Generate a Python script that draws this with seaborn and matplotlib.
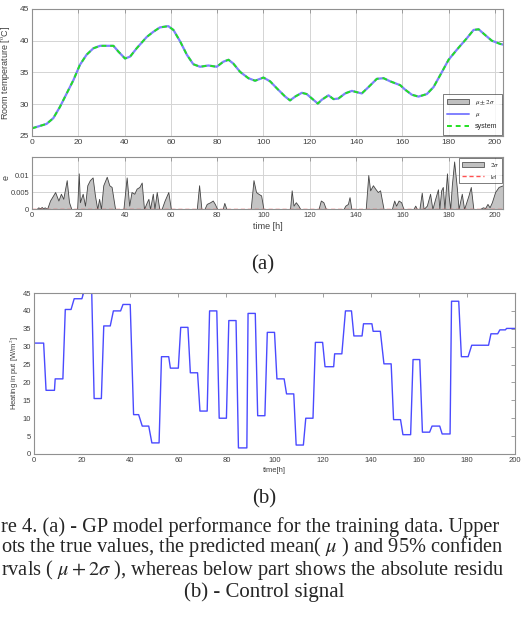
import numpy as np
import pandas as pd
import matplotlib
matplotlib.use("Agg")
import matplotlib.pyplot as plt
from matplotlib.patches import Patch
from matplotlib.lines import Line2D
import seaborn as sns

# room temperature (mu and system overlap)
temp_time = [0, 6.3, 9.2, 12.1, 15, 17.9, 20.7, 23.6, 26.5, 29.4, 35.2, 37.3, 40.2, 42.4,
             45.2, 49.6, 52.4, 55.3, 58.9, 61.1, 64, 66.9, 69.7, 72.6, 76.2, 79.8, 82.7,
             84.9, 87, 89.9, 93.5, 96.4, 100, 102.9, 105.8, 109.4, 111.5, 113.7, 116.6,
             118.7, 121.6, 123.5, 125.2, 128.1, 130.3, 132.4, 135.3, 138.2, 140.3, 142.5,
             145.4, 149, 151.9, 154.8, 159.1, 161.2, 164.1, 167, 170.6, 173.5, 176.4, 180,
             183.6, 187.9, 190.8, 193, 195.8, 198.7, 202.3, 203.5]
temp_mu = [26.2, 26.9, 27.8, 29.6, 31.7, 33.8, 36.2, 37.8, 38.8, 39.2, 39.2, 38.3, 37.2, 37.5,
           38.8, 40.6, 41.4, 42.1, 42.3, 41.7, 39.9, 37.8, 36.3, 35.9, 36.1, 35.9, 36.7,
           37.0, 36.4, 35.1, 34.1, 33.7, 34.2, 33.6, 32.5, 31.2, 30.6, 31.2, 31.8,
           31.6, 30.7, 30.1, 30.7, 31.4, 30.8, 30.9, 31.7, 32.1, 31.9, 31.7,
           32.7, 34.0, 34.1, 33.6, 33.0, 32.3, 31.5, 31.2, 31.6, 32.7, 34.6, 37.0,
           38.6, 40.4, 41.7, 41.8, 40.9, 40.0, 39.5, 39.4]

# 2 sigma band of the residual panel
sig_time = [0, 2, 2.7, 3.5, 4.2, 4.8, 5.5, 6.5, 7.8, 10, 11.4, 12.5, 13.5, 15, 16, 17,
            19.5, 20.2, 20.7, 21.9, 22.9, 23.9, 25, 26.2, 27.2, 28.2, 29, 29.8, 30.8, 32.3,
            33.4, 34.4, 35.9, 39.5, 40.9, 42, 43, 44.2, 45.2, 46.4, 47.4, 48.4, 49.6, 50.3,
            51, 52.2, 52.9, 53.9, 55, 56, 57.3, 58.9, 60, 71.2, 72.2, 73.2, 74.5, 75.5, 77,
            78.1, 79, 80, 82.4, 83.1, 84, 94.5, 95.7, 96.8, 97.8, 99, 100, 111.5, 112.2,
            113, 114, 115.1, 115.9, 123.8, 124.8, 125.9, 127, 134.6, 135.4, 136.5, 137.2,
            138, 144.2, 145.3, 146.1, 147.3, 148.3, 149.4, 150.4, 151.9, 155.5, 156.5,
            157.3, 158.4, 159.5, 160.5, 164.8, 165.6, 166.3, 167.4, 168.4, 169.2, 170.6,
            172, 173, 174.2, 175.4, 176, 176.8, 177.5, 178.2, 179.3, 180, 180.7, 181.4,
            182.4, 183.6, 184.3, 185.7, 186.7, 188.6, 189.6, 190.7, 193.6, 194.8, 195.8,
            196.8, 197.7, 198.7, 200.1, 201.6, 203.5]
sig_val = [0, 0, 0.0005, 0.0002, 0.0006, 0.0002, 0.0005, 0, 0.0025, 0.005, 0.0025, 0.0045,
           0.003, 0.0085, 0.002, 0, 0, 0.0105, 0.002, 0.0045, 0.001, 0.007, 0.0085, 0.0093,
           0.004, 0, 0.003, 0, 0.007, 0.0095, 0.007, 0.0065, 0, 0, 0.0093, 0.001, 0.005,
           0.0045, 0.006, 0.0065, 0.0078, 0, 0.002, 0.003, 0, 0.0045, 0, 0.005, 0, 0,
           0.0025, 0.005, 0, 0, 0.007, 0, 0, 0.0015, 0.002, 0.0025, 0.0015, 0, 0, 0.0018,
           0, 0, 0.0085, 0.005, 0.0045, 0.004, 0, 0, 0.0055, 0.001, 0.002, 0.001, 0, 0,
           0.0025, 0.002, 0, 0, 0.001, 0.0015, 0.0035, 0, 0, 0.01, 0.0055, 0.007, 0.006,
           0.005, 0.0055, 0, 0, 0.0025, 0.001, 0.0025, 0.002, 0, 0, 0.001, 0, 0, 0.0048,
           0, 0.001, 0.0045, 0, 0.003, 0.0058, 0, 0.0055, 0.0065, 0, 0.0105, 0.004, 0,
           0.007, 0.014, 0.006, 0, 0.0045, 0, 0.004, 0.0065, 0, 0, 0.0005, 0.0003, 0.0015,
           0.0005, 0.002, 0.005, 0.0065, 0.007]

# control signal: piecewise constant steps
step_start = [0, 5, 8.8, 13, 16.7, 20.6, 25, 29, 33, 37, 41.4, 45, 49, 53, 56.7, 61, 65,
              69, 73, 77, 81, 85, 89, 93, 97, 101, 105, 109, 113, 117, 121, 125, 129.5,
              133, 137, 141, 145.5, 149.5, 153.4, 157.6, 161.5, 165.5, 169.7, 173.6,
              177.7, 182, 190, 193.7, 196.5]
step_end = [4, 8.5, 12, 15.4, 19.9, 24, 28, 31.7, 36, 40, 43.5, 47.7, 52, 56, 60, 64, 68,
            72, 76, 80, 84, 88.5, 92, 96, 100, 104, 108, 112, 116, 120, 124.6, 128, 132,
            136.4, 140.5, 144, 148.5, 152.4, 156.6, 160.4, 164.5, 168.7, 173, 176.6,
            180.5, 189, 192.8, 196, 200]
step_level = [31, 17.8, 21, 40.4, 43.4, 45, 15.5, 35.8, 40, 41.8, 11, 7.8, 3.1, 27.2, 24,
              35.4, 22.7, 12, 40, 10, 37.3, 1.7, 39.3, 10.7, 34, 21, 16.8, 2.5, 10, 31.2,
              24.4, 28, 40, 33, 36.4, 34.3, 25.2, 9.6, 5.4, 26.4, 6.1, 7.8, 5.6, 42.7, 27.2,
              30.4, 33.6, 34.7, 35.1]

sns.set_style("white")
plt.rcParams["font.family"] = ["Liberation Sans", "DejaVu Sans"]
plt.rcParams["mathtext.fontset"] = "stix"

temp_df = pd.DataFrame({"t": temp_time, "T": temp_mu})
u_t = np.ravel(np.column_stack([step_start, step_end]))
u_v = np.repeat(step_level, 2)
u_df = pd.DataFrame({"t": u_t, "u": u_v})

fig = plt.figure(figsize=(5.21, 6.33), dpi=100)
ax1 = fig.add_axes([0.0614, 0.7852, 0.904, 0.2006])
ax2 = fig.add_axes([0.0614, 0.6698, 0.904, 0.0821])
ax3 = fig.add_axes([0.0653, 0.2828, 0.9232, 0.2543])

tick_col = "#404040"
frame_col = "#909090"


def matlab_axes(ax, grid=True, size=6):
    for s in ax.spines.values():
        s.set_color(frame_col)
        s.set_linewidth(0.8)
    ax.tick_params(direction="in", length=3, width=0.6, colors=frame_col,
                   labelcolor=tick_col, labelsize=size, pad=2,
                   top=True, right=True)
    if grid:
        ax.grid(True, color="#d4d4d4", linewidth=0.7)
    ax.set_axisbelow(True)


# upper panel: temperature
sns.lineplot(data=temp_df, x="t", y="T", ax=ax1, color="#8080ff", linewidth=1.6,
             estimator=None, sort=False)
sns.lineplot(data=temp_df, x="t", y="T", ax=ax1, color="#22e022", linewidth=1.4,
             linestyle=(0, (2.5, 2)), estimator=None, sort=False)
ax1.set_xlim(0, 203.5)
ax1.set_ylim(25, 45)
ax1.set_xticks(np.arange(0, 201, 20))
ax1.set_yticks(np.arange(25, 46, 5))
ax1.set_xlabel("")
ax1.set_ylabel("Room temperature [$^{\\rm o}$C]", fontsize=6.5, color=tick_col)
ax1.yaxis.set_label_coords(-0.042, 0.5)
matlab_axes(ax1)
h1 = [Patch(facecolor="#c0c0c0", edgecolor="#555555", linewidth=0.6),
      Line2D([], [], color="#8080ff", lw=1.4),
      Line2D([], [], color="#22e022", lw=1.4, ls=(0, (2.5, 2)))]
leg1 = ax1.legend(h1, ["$\\mu \\pm 2\\sigma$", "$\\mu$", "system"], loc="lower right",
                  fontsize=5, frameon=True, fancybox=False, handlelength=3.2,
                  borderaxespad=0.2, labelspacing=0.6, edgecolor="#404040",
                  borderpad=0.6)
leg1.get_frame().set_linewidth(0.6)

# residual panel
ax2.fill_between(sig_time, 0, sig_val, facecolor="#c4c4c4", edgecolor="#444444",
                 linewidth=0.6)
ax2.plot([0, 203.5], [0, 0], color="#ff5050", lw=1.0, ls=(0, (3, 2)))
ax2.set_xlim(0, 203.5)
ax2.set_ylim(0, 0.0153)
ax2.set_xticks(np.arange(0, 201, 20))
ax2.set_yticks([0, 0.005, 0.01])
ax2.set_yticklabels(["0", "0.005", "0.01"])
ax2.set_ylabel("e", fontsize=6.5, color=tick_col)
ax2.yaxis.set_label_coords(-0.045, 0.6)
ax2.set_xlabel("time [h]", fontsize=6.5, color=tick_col, labelpad=2)
matlab_axes(ax2, size=5.5)
h2 = [Patch(facecolor="#c0c0c0", edgecolor="#555555", linewidth=0.6),
      Line2D([], [], color="#ff5050", lw=1.0, ls=(0, (3, 2)))]
leg2 = ax2.legend(h2, ["$2\\sigma$", "$|e|$"], loc="upper right", fontsize=5,
                  frameon=True, fancybox=False, handlelength=3.2, borderaxespad=0.2,
                  labelspacing=0.5, edgecolor="#404040", borderpad=0.4)
leg2.get_frame().set_linewidth(0.6)

fig.text(0.505, 0.5814, "(a)", ha="center", va="center", fontsize=15,
         family="Liberation Serif")

# control signal panel
sns.lineplot(data=u_df, x="t", y="u", ax=ax3, color="#4a4aff", linewidth=1.0,
             estimator=None, sort=False)
ax3.set_xlim(0, 200)
ax3.set_ylim(0, 45)
ax3.set_xticks(np.arange(0, 201, 20))
ax3.set_yticks(np.arange(0, 46, 5))
ax3.set_ylabel("Heating in put [W/m$^2$]", fontsize=5.5, color=tick_col, labelpad=1)
ax3.set_xlabel("time[h]", fontsize=5.5, color=tick_col, labelpad=2)
matlab_axes(ax3, grid=False, size=5.5)

fig.text(0.507, 0.2117, "(b)", ha="center", va="center", fontsize=15,
         family="Liberation Serif")

cap_lines = ["re 4. (a) - GP model performance for the training data. Upper",
             "ots the true values, the predicted mean( $\\mu$ ) and 95% confiden",
             "rvals ( $\\mu + 2\\sigma$ ), whereas below part shows the absolute residu"]
cap_y = [0.1675, 0.1359, 0.0995]
for line, yy in zip(cap_lines, cap_y):
    fig.text(0.002, yy, line, ha="left", va="center", fontsize=14.7,
             family="Liberation Serif")
fig.text(0.507, 0.0648, "(b) - Control signal", ha="center", va="center",
         fontsize=15, family="Liberation Serif")

fig.savefig("out.png", dpi=100)
